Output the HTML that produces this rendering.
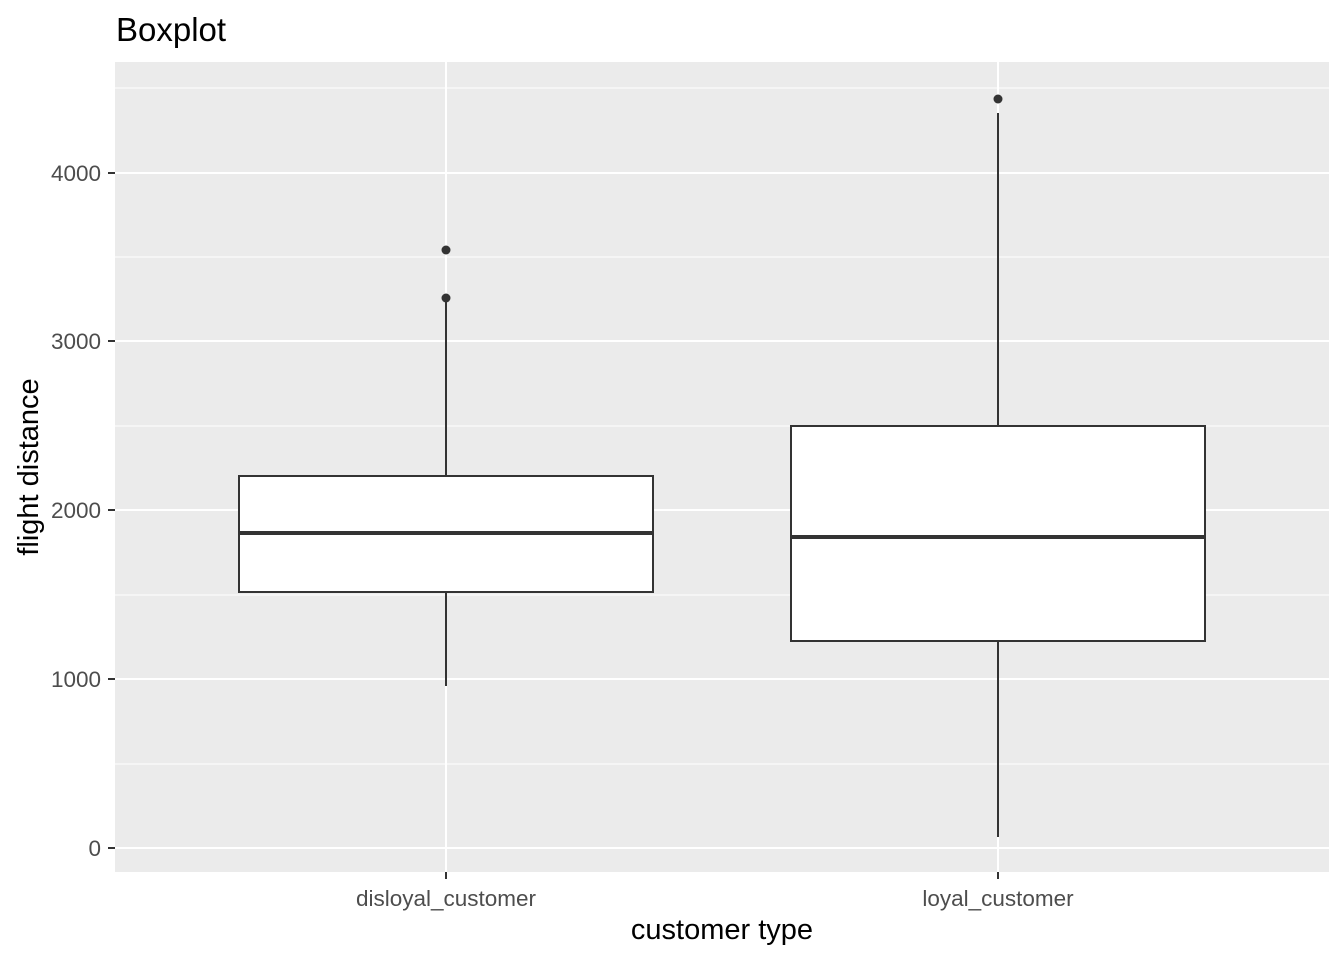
<!DOCTYPE html>
<html><head><style>body{margin:0;background:#fff}</style></head><body>
<svg width="1344" height="960" xmlns="http://www.w3.org/2000/svg" font-family="Liberation Sans, sans-serif">
<rect width="1344" height="960" fill="#fff"/>
<rect x="115" y="62" width="1214" height="810" fill="#ebebeb"/>
<g stroke="#fff" stroke-width="1">
<line x1="115" x2="1329" y1="764" y2="764"/><line x1="115" x2="1329" y1="595" y2="595"/>
<line x1="115" x2="1329" y1="426" y2="426"/><line x1="115" x2="1329" y1="257" y2="257"/>
<line x1="115" x2="1329" y1="88" y2="88"/>
</g>
<g stroke="#fff" stroke-width="2">
<line x1="115" x2="1329" y1="848" y2="848"/><line x1="115" x2="1329" y1="679" y2="679"/>
<line x1="115" x2="1329" y1="510" y2="510"/><line x1="115" x2="1329" y1="341" y2="341"/>
<line x1="115" x2="1329" y1="173" y2="173"/>
<line x1="446" x2="446" y1="62" y2="872"/><line x1="998" x2="998" y1="62" y2="872"/>
</g>
<g stroke="#333" stroke-width="2" fill="#fff">
<line x1="446" x2="446" y1="298" y2="476"/><line x1="446" x2="446" y1="592" y2="686"/>
<rect x="239" y="476" width="414" height="116"/>
<line x1="239" x2="653" y1="533" y2="533" stroke-width="4"/>
<line x1="998" x2="998" y1="113" y2="426"/><line x1="998" x2="998" y1="641" y2="837"/>
<rect x="791" y="426" width="414" height="215"/>
<line x1="791" x2="1205" y1="537" y2="537" stroke-width="4"/>
</g>
<g fill="#333"><circle cx="446" cy="298" r="4.5"/><circle cx="446" cy="250" r="4.5"/><circle cx="998" cy="99" r="4.5"/></g>
<g stroke="#333" stroke-width="2">
<line x1="108" x2="115" y1="848" y2="848"/><line x1="108" x2="115" y1="679" y2="679"/>
<line x1="108" x2="115" y1="510" y2="510"/><line x1="108" x2="115" y1="341" y2="341"/>
<line x1="108" x2="115" y1="173" y2="173"/>
<line x1="446" x2="446" y1="872" y2="879"/><line x1="998" x2="998" y1="872" y2="879"/>
</g>
<g fill="#4d4d4d" font-size="22.5" text-anchor="end">
<text x="101" y="856">0</text><text x="101" y="687">1000</text><text x="101" y="518">2000</text>
<text x="101" y="349">3000</text><text x="101" y="181">4000</text>
</g>
<g fill="#4d4d4d" font-size="22.5" text-anchor="middle">
<text x="446" y="906">disloyal_customer</text><text x="998" y="906">loyal_customer</text>
</g>
<text x="722" y="939" font-size="29" text-anchor="middle" fill="#000">customer type</text>
<text transform="translate(38,467) rotate(-90)" font-size="29" text-anchor="middle" fill="#000">flight distance</text>
<text x="116" y="41" font-size="33" fill="#000">Boxplot</text>
</svg>
</body></html>
